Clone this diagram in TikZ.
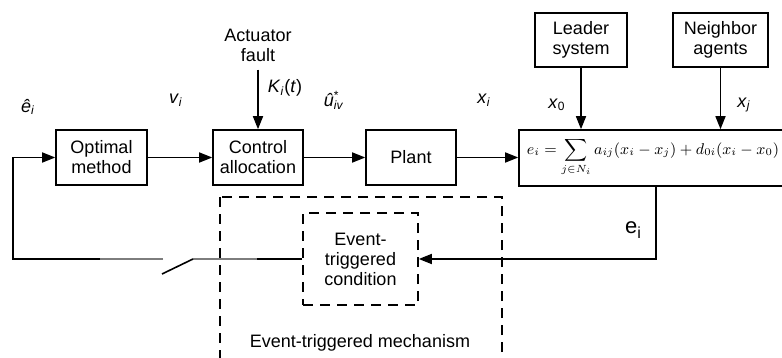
\documentclass[tikz,border=0pt]{standalone}
\usepackage{amsmath}
\usepackage{graphicx}
\usepackage{fontspec}
\setmainfont{Liberation Sans}
\usetikzlibrary{arrows.meta,positioning}
\definecolor{swgray}{RGB}{125,125,125}
\newcommand{\isub}[2]{\textit{#1}\textsubscript{\textit{#2}}}

\begin{document}
\begin{tikzpicture}[x=.5pt,y=-.5pt,font=\fontsize{9}{10}\selectfont,
    blk/.style={draw,line width=.8pt,align=center,inner sep=0pt},
    dbox/.style={draw,line width=.8pt,dash pattern=on 5pt off 3.5pt},
    wire/.style={line width=.8pt},
    arr/.style={line width=.8pt,-{Triangle[length=6.5pt,width=5pt]}},
    lbl/.style={inner sep=0pt}]
  \useasboundingbox (0,0) rectangle (782,358);
  % blocks of the loop
  \node[blk,minimum width=45.5pt,minimum height=27.5pt] (opt) at (101.5,157.5) {Optimal\\method};
  \node[blk,minimum width=45pt,minimum height=27.5pt] (ctrl) at (258,157.5) {Control\\allocation};
  \node[blk,minimum width=45pt,minimum height=27.5pt] (plant) at (411,157.5) {Plant};
  \node[blk,minimum width=140pt,minimum height=28pt] (err) at (659,158) {};
  \node[inner sep=0pt] (formula) at (653,157)
    {\resizebox{126pt}{!}{$\displaystyle e_i=\sum_{j\in N_i}a_{ij}(x_i-x_j)+d_{0i}(x_i-x_0)$}};
  \node[blk,minimum width=46pt,minimum height=27pt] (leader) at (581,40) {Leader\\system};
  \node[blk,minimum width=47.5pt,minimum height=27pt] (nbr) at (720.5,40) {Neighbor\\agents};
  \node[align=center,inner sep=4pt] (act) at (258,45) {Actuator\\fault};
  % event-triggered part
  \draw[dbox] (220,197) rectangle (502,380);
  \node[dbox,align=center,minimum width=57.5pt,minimum height=46pt,inner sep=0pt] (cond) at (360.5,259)
    {Event-\\triggered\\condition};
  \node (mech) at (360,343) {Event-triggered mechanism};
  % connectors
  \draw[arr] (act) -- (ctrl);
  \draw[arr] (opt) -- (ctrl);
  \draw[arr] (ctrl) -- (plant);
  \draw[arr] (plant.east) -- (plant.east -| err.west);
  \draw[arr] (leader) -- (leader |- err.north);
  \draw[arr] (nbr) -- (nbr |- err.north);
  \coordinate (tap) at (656,0);
  \draw[arr] (err.south -| tap) |- (cond.east);
  % switch and feedback
  \coordinate (swin) at (257,259);
  \coordinate (swpiv) at (193,259);
  \coordinate (swtip) at (162,274);
  \coordinate (swout) at (163,259);
  \coordinate (fbk) at (100,259);
  \coordinate (fbc) at (13,259);
  \draw[wire] (cond.west) -- (swin);
  \draw[wire,swgray] (swin) -- (swpiv);
  \draw[wire] (swpiv) -- (swtip);
  \draw[wire,swgray] (swout) -- (fbk);
  \draw[arr] (fbk) -- (fbc) |- (opt.west);
  % signal labels
  \node[lbl] (ehat) at (28,107) {\isub{ê}{i}};
  \node[lbl] (vlbl) at (176,100) {\isub{v}{i}};
  \node[lbl] (klbl) at (285,88) {\isub{K}{i}(\textit{t})};
  \node[lbl] (ulbl) at (334,100) {\textit{û}\rlap{\textsuperscript{*}}\textsubscript{\textit{iv}}};
  \node[lbl] (xilbl) at (484,100) {\isub{x}{i}};
  \node[lbl] (x0lbl) at (557,105) {\textit{x}\textsubscript{0}};
  \node[lbl] (xjlbl) at (744,105) {\isub{x}{j}};
  \node[lbl,font=\fontsize{11}{12}\selectfont] (elbl) at (633,230) {e\raisebox{-.5ex}{\footnotesize i}};
\end{tikzpicture}
\end{document}
